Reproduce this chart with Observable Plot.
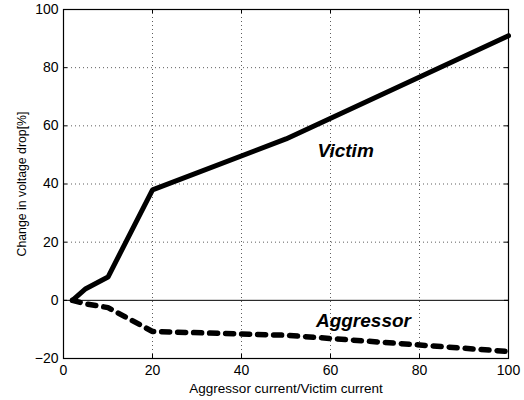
<!DOCTYPE html>
<html>
<head>
<meta charset="utf-8">
<script src="https://cdn.jsdelivr.net/npm/d3@7"></script>
<script src="https://cdn.jsdelivr.net/npm/@observablehq/plot@0.6"></script>
<style>
  html, body { margin: 0; padding: 0; background: #fff; }
  #chart { width: 524px; height: 400px; }
  svg { font-family: "Liberation Sans", Arial, sans-serif; }
</style>
</head>
<body>
<div id="chart"></div>
<script>
// Data
const victimX = [2, 5, 10, 20, 50, 100];
const victimY = [0, 4, 8, 38, 55.5, 91];
const aggressorX = [2, 5, 10, 20, 50, 100];
const aggressorY = [0, -1.2, -2.5, -10.7, -12, -17.6];
const xTicks = [0, 20, 40, 60, 80, 100];
const yTicks = [-20, 0, 20, 40, 60, 80, 100];
const gridX = [20, 40, 60, 80];
const gridY = [20, 40, 60, 80];
const labels = [
  {text: "Victim", x: 63.4, y: 51.5},
  {text: "Aggressor", x: 67.4, y: -7}
];
const xLabel = "Aggressor current/Victim current";
const yLabel = "Change in voltage drop[%]";

const victim = victimX.map((x, i) => ({x, y: victimY[i]}));
const aggressor = aggressorX.map((x, i) => ({x, y: aggressorY[i]}));

const W = 524, H = 400, mL = 63, mR = 16, mT = 9, mB = 42;
const plotW = W - mL - mR, plotH = H - mT - mB, tick = 4;

const chart = Plot.plot({
  width: W,
  height: H,
  marginLeft: mL,
  marginRight: mR,
  marginTop: mT,
  marginBottom: mB,
  style: {fontFamily: "Liberation Sans, Arial, sans-serif", fontSize: "14px", color: "#000", background: "#fff"},
  x: {domain: [0, 100]},
  y: {domain: [-20, 100]},
  marks: [
    Plot.ruleX(gridX, {stroke: "#000", strokeWidth: 0.8, strokeDasharray: "1,3", strokeOpacity: 0.8}),
    Plot.ruleY(gridY, {stroke: "#000", strokeWidth: 0.8, strokeDasharray: "1,3", strokeOpacity: 0.8}),
    Plot.ruleY([0], {stroke: "#000", strokeWidth: 1}),
    // inward ticks on all four sides
    Plot.ruleX(xTicks, {stroke: "#000", insetTop: plotH - tick}),
    Plot.ruleX(xTicks, {stroke: "#000", insetBottom: plotH - tick}),
    Plot.ruleY(yTicks, {stroke: "#000", insetRight: plotW - tick}),
    Plot.ruleY(yTicks, {stroke: "#000", insetLeft: plotW - tick}),
    Plot.axisX(xTicks, {anchor: "bottom", tickSize: 0, tickPadding: 7, fontSize: 14, label: null}),
    Plot.axisY(yTicks, {anchor: "left", tickSize: 0, tickPadding: 5, fontSize: 14, label: null}),
    Plot.text([xLabel], {frameAnchor: "bottom", lineAnchor: "middle", dy: 30, fontSize: 13.5, fill: "#000"}),
    Plot.text([yLabel], {frameAnchor: "left", textAnchor: "middle", lineAnchor: "middle", dx: -41, rotate: -90, fontSize: 12.3, fill: "#000"}),
    Plot.frame({stroke: "#000", strokeWidth: 1.2}),
    Plot.line(victim, {x: "x", y: "y", stroke: "#000", strokeWidth: 5, strokeLinejoin: "miter"}),
    Plot.line(aggressor, {x: "x", y: "y", stroke: "#000", strokeWidth: 5.5, strokeDasharray: "8,8", strokeLinejoin: "miter"}),
    Plot.text(labels, {x: "x", y: "y", text: "text", fontSize: 19, fontWeight: "bold", fontStyle: "italic", fill: "#000"})
  ]
});
document.getElementById("chart").appendChild(chart);
</script>
</body>
</html>
